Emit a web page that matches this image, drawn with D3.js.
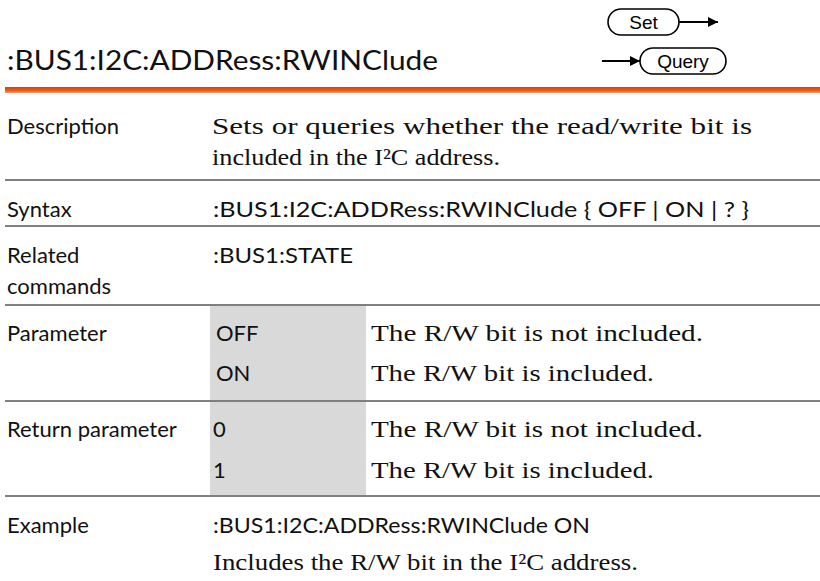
<!DOCTYPE html>
<html><head><meta charset="utf-8">
<script src="https://cdn.jsdelivr.net/npm/d3@7"></script>
<style>
html,body{margin:0;padding:0;background:#fff;overflow:hidden}
.sans{font-family:Lato,"Open Sans",sans-serif;fill:#111}
.serif{font-family:"Liberation Serif","DejaVu Serif",serif;fill:#111}
.ui{font-family:"Liberation Sans",Arial,sans-serif;fill:#000}
</style>
</head><body>
<svg id="c" width="820" height="581"></svg>
<script>
// ---- content ----
const title = ":BUS1:I2C:ADDRess:RWINClude";
const modes = ["Set", "Query"];
const labels = ["Description", "Syntax", "Related|commands", "Parameter", "Return parameter", "Example"];
const descriptionLines = ["Sets or queries whether the read/write bit is", "included in the I\u00B2C address."];
const syntaxText = ":BUS1:I2C:ADDRess:RWINClude { OFF | ON | ? }";
const relatedText = ":BUS1:STATE";
const paramValues = ["OFF", "ON"];
const paramDesc = ["The R/W bit is not included.", "The R/W bit is included."];
const returnValues = ["0", "1"];
const returnDesc = ["The R/W bit is not included.", "The R/W bit is included."];
const exampleCmd = ":BUS1:I2C:ADDRess:RWINClude ON";
const exampleDesc = "Includes the R/W bit in the I\u00B2C address.";

// ---- layout ----
const svg = d3.select("#c");
const W = 820;
const colX = d3.scaleOrdinal().domain(["label","value","desc"]).range([7, 213, 371]);
const ruleY = [180, 226, 305, 401, 496];

function txt(s, x, y, cls, size, w) {
  const t = svg.append("text").attr("class", cls).attr("x", x).attr("y", y)
    .attr("font-size", size).text(s);
  if (w) t.attr("textLength", w).attr("lengthAdjust", "spacingAndGlyphs");
  return t;
}

// title
txt(title, 7, 70, "sans", 26, 431);

// Set / Query badges
const defs = svg.append("defs");
defs.append("marker").attr("id","ah").attr("viewBox","0 0 10 10").attr("refX",10).attr("refY",5)
  .attr("markerWidth",10).attr("markerHeight",10).attr("markerUnits","userSpaceOnUse").attr("orient","auto")
  .append("path").attr("d","M0,0L10,5L0,10Z").attr("fill","#000");
const grad = defs.append("linearGradient").attr("id","og").attr("x1",0).attr("x2",0).attr("y1",0).attr("y2",1);
grad.append("stop").attr("offset","0%").attr("stop-color","#d8430c");
grad.append("stop").attr("offset","60%").attr("stop-color","#ea5b1c");
grad.append("stop").attr("offset","100%").attr("stop-color","#f6a274");

const badges = [
  {name: modes[0], x: 608, y: 9, w: 71, h: 26, ax1: 679, ax2: 718},
  {name: modes[1], x: 640, y: 48, w: 86, h: 26, ax1: 602, ax2: 640}
];
badges.forEach(b => {
  svg.append("rect").attr("x", b.x).attr("y", b.y).attr("width", b.w).attr("height", b.h)
    .attr("rx", 13).attr("ry", 13).attr("fill", "#fff").attr("stroke", "#000").attr("stroke-width", 1.6);
  txt(b.name, b.x + b.w / 2, b.y + 20, "ui", 19).attr("text-anchor", "middle");
  svg.append("line").attr("x1", b.ax1).attr("x2", b.ax2).attr("y1", b.y + 13).attr("y2", b.y + 13)
    .attr("stroke", "#000").attr("stroke-width", 2).attr("marker-end", "url(#ah)");
});

// orange rule
svg.append("rect").attr("x", 5).attr("y", 87).attr("width", W - 5).attr("height", 6).attr("fill", "url(#og)");

// shaded column for parameter / return rows
svg.append("rect").attr("x", 210).attr("y", ruleY[2]).attr("width", 156).attr("height", ruleY[4] - ruleY[2])
  .attr("fill", "#d9d9d9");

// gray rules
svg.selectAll("line.rule").data(ruleY).join("line").attr("class","rule")
  .attr("x1", 5).attr("x2", W).attr("y1", d => d).attr("y2", d => d)
  .attr("stroke", "#808080").attr("stroke-width", 2.2);

const FS = 22, SF = 23;
// labels
const labelPos = [[134], [217], [263, 294], [341], [437], [533]];
labels.forEach((l, i) => {
  l.split("|").forEach((part, j) => txt(part, colX("label"), labelPos[i][j], "sans", FS));
});

// Description
const dW = [540, 288];
descriptionLines.forEach((s, j) => txt(s, 212, [134, 165][j], "serif", SF, dW[j]));
// Syntax
txt(syntaxText, colX("value"), 217, "sans", FS, 536);
// Related
txt(relatedText, colX("value"), 263, "sans", FS, 140);
// Parameter
const pY = [341, 381];
paramValues.forEach((v, j) => {
  txt(v, 216, pY[j], "sans", FS);
  txt(paramDesc[j], colX("desc"), pY[j], "serif", SF, [332, 283][j]);
});
// Return
const rY = [437, 478];
returnValues.forEach((v, j) => {
  txt(v, 213, rY[j], "sans", FS);
  txt(returnDesc[j], colX("desc"), rY[j], "serif", SF, [332, 283][j]);
});
// Example
txt(exampleCmd, colX("value"), 533, "sans", FS, 377);
txt(exampleDesc, colX("value"), 570, "serif", SF, 425);
</script>
</body></html>
